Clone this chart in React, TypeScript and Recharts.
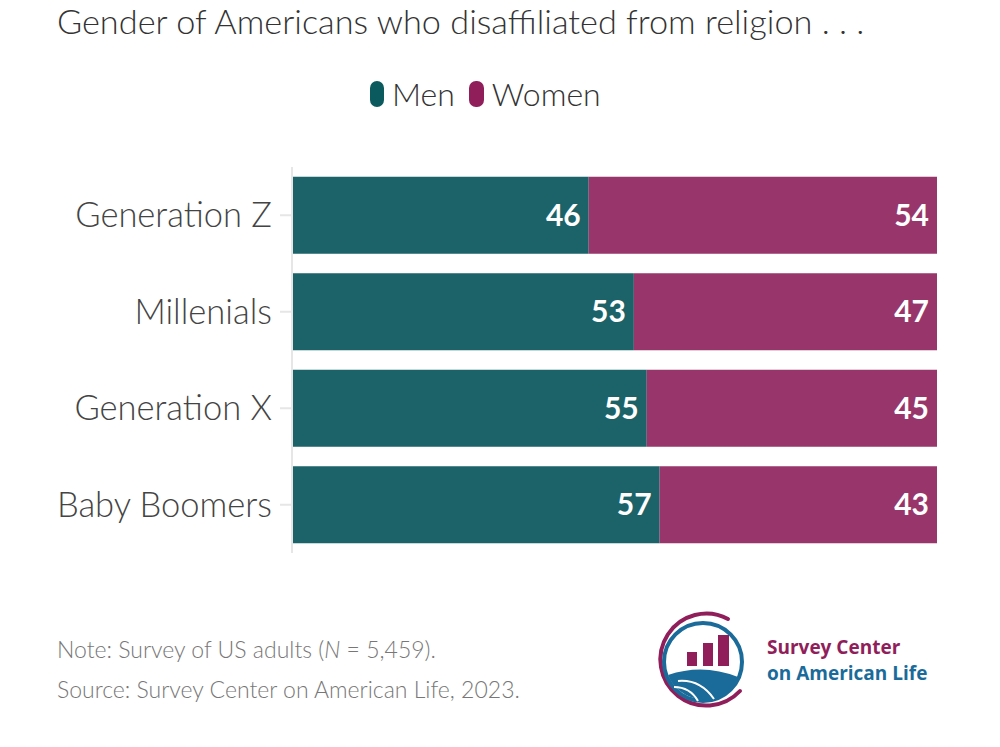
import React from "react";
import { Bar, BarChart, LabelList, XAxis, YAxis } from "recharts";

const generations = ["Generation Z", "Millenials", "Generation X", "Baby Boomers"];
const menShare = [46, 53, 55, 57];
const womenShare = [54, 47, 45, 43];

const MEN = "#1b6369";
const WOMEN = "#98356a";
const FONT = "'Lato', 'Open Sans', sans-serif";

const rows = generations.map((g, i) => ({ name: g, men: menShare[i], women: womenShare[i] }));

function Logo() {
  return (
    <svg width={110} height={110} viewBox="0 0 110 110" style={{ position: "absolute", left: 648, top: 607 }}>
      {/* outer swoosh */}
      <path d="M 80 12 A 46 46 0 1 0 92 84" fill="none" stroke="#8f1e5a" strokeWidth={4} strokeLinecap="round" />
      {/* inner ring */}
      <circle cx={55} cy={55} r={39} fill="none" stroke="#1a6b9a" strokeWidth={4} />
      {/* bars */}
      <rect x={39} y={45} width={10} height={14} fill="#8f1e5a" />
      <rect x={55} y={36} width={10} height={23} fill="#8f1e5a" />
      <rect x={70} y={28} width={11} height={31} fill="#8f1e5a" />
      {/* hills */}
      <path d="M 20 68 Q 55 56 90 70 Q 86 84 70 90 Q 55 96 38 88 Q 24 80 20 68 Z" fill="#1a6b9a" />
      <path d="M 30 74 Q 52 72 66 92" fill="none" stroke="#fff" strokeWidth={2} />
      <path d="M 26 80 Q 42 80 50 94" fill="none" stroke="#fff" strokeWidth={2} />
    </svg>
  );
}

export default function App() {
  return (
    <div style={{ position: "absolute", left: 0, top: 0, width: 1000, height: 747, background: "#fff", fontFamily: FONT, overflow: "hidden" }}>
      <div style={{ position: "absolute", left: 57, top: 0, fontSize: 34.3, fontWeight: 300, color: "#333", whiteSpace: "nowrap" }}>
        Gender of Americans who disaffiliated from religion . . .
      </div>

      <div style={{ position: "absolute", left: 370, top: 74, display: "flex", alignItems: "center", fontSize: 32, fontWeight: 300, color: "#333" }}>
        <span style={{ display: "inline-block", width: 14, height: 26, borderRadius: 7, background: "#0b5a5e", marginRight: 8 }} />
        <span style={{ marginRight: 14 }}>Men</span>
        <span style={{ display: "inline-block", width: 15, height: 26, borderRadius: 7, background: "#8f1e5a", marginRight: 8 }} />
        <span>Women</span>
      </div>

      <div style={{ position: "absolute", left: 0, top: 0 }}>
        <BarChart
          width={1000}
          height={600}
          data={rows}
          layout="vertical"
          margin={{ top: 167, right: 63, bottom: 47, left: 0 }}
          barCategoryGap="10%"
        >
          <XAxis type="number" domain={[0, 100]} hide />
          <YAxis
            type="category"
            dataKey="name"
            width={292}
            axisLine={{ stroke: "#e6e6e6", strokeWidth: 2 }}
            tickLine={{ stroke: "#e6e6e6", strokeWidth: 2 }}
            tickSize={12}
            tickMargin={8}
            tick={{ fill: "#444", fontSize: 34.5, fontWeight: 300, fontFamily: FONT }}
          />
          <Bar dataKey="men" stackId="a" fill={MEN} isAnimationActive={false}>
            <LabelList
              dataKey="men"
              position="insideRight"
              offset={8}
              fill="#fff"
              style={{ fontSize: 30, fontWeight: 700, fontFamily: FONT }}
            />
          </Bar>
          <Bar dataKey="women" stackId="a" fill={WOMEN} isAnimationActive={false}>
            <LabelList
              dataKey="women"
              position="insideRight"
              offset={8}
              fill="#fff"
              style={{ fontSize: 30, fontWeight: 700, fontFamily: FONT }}
            />
          </Bar>
        </BarChart>
      </div>

      <div style={{ position: "absolute", left: 57, top: 629, fontSize: 23, fontWeight: 300, color: "#777", lineHeight: "40px" }}>
        <div>
          Note: Survey of US adults (<i>N</i> = 5,459).
        </div>
        <div>Source: Survey Center on American Life, 2023.</div>
      </div>

      <Logo />
      <div style={{ position: "absolute", left: 767, top: 634, fontSize: 19, fontWeight: 700, lineHeight: "26px", fontFamily: "'Open Sans', sans-serif" }}>
        <div style={{ color: "#8f1e5a" }}>Survey Center</div>
        <div style={{ color: "#1a6b9a" }}>on American Life</div>
      </div>
    </div>
  );
}
